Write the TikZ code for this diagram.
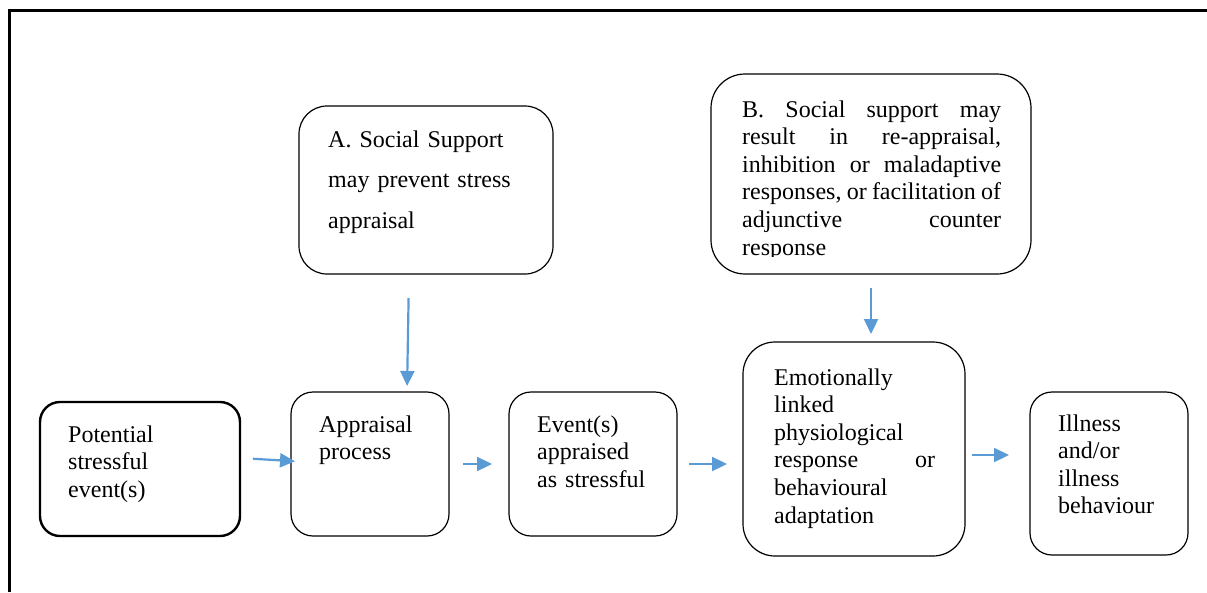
\documentclass[tikz,border=0pt]{standalone}
\usepackage{fontspec}
\setmainfont{Liberation Serif}
\usetikzlibrary{arrows.meta}
\definecolor{arrblue}{HTML}{5B9BD5}
\begin{document}
\begin{tikzpicture}[x=1pt,y=-1pt,
  box/.style={draw, rounded corners=22pt, line width=1.2pt, inner sep=0pt, outer sep=0pt},
  txt/.style={anchor=base west, inner sep=0pt, align=left, font=\fontsize{24}{27.6}\selectfont},
  arr/.style={draw=arrblue, line width=2.2pt, -{Triangle[length=15pt,width=14pt]}}]
\useasboundingbox (0,0) rectangle (1207,592);
% frame
\draw[line width=2.2pt, line join=miter] (9.5,592) -- (9.5,10.5) -- (1207,10.5);
% boxes
\node[box, line width=2.4pt, rounded corners=20pt, minimum width=200pt, minimum height=134pt] (p1) at (140,469) {};
\node[box, minimum width=158pt, minimum height=144pt] (p2) at (370,464) {};
\node[box, minimum width=168pt, minimum height=144pt] (p3) at (593,464) {};
\node[box, rounded corners=32pt, minimum width=222pt, minimum height=214pt] (p4) at (854,449) {};
\node[box, minimum width=158pt, minimum height=163pt] (p5) at (1109,473.5) {};
\node[box, rounded corners=28pt, minimum width=254pt, minimum height=168pt] (pa) at (426,190) {};
\node[box, rounded corners=34pt, minimum width=320pt, minimum height=200pt] (pb) at (871,174) {};
% texts
\node[txt, text width=160pt] (t1) at (68,442) {Potential\\stressful\\event(s)};
\node[txt, text width=120pt] (t2) at (319,432) {Appraisal\\process};
\node[txt, text width=130pt] (t3) at (537,432) {Event(s)\\appraised\\as stressful};
\node[txt, text width=161pt] (t4) at (774,385) {Emotionally\\linked\\physiological\\response\hfill or\\behavioural\\adaptation};
\node[txt, text width=120pt] (t5) at (1058,431) {Illness\\and/or\\illness\\behaviour};
\node[txt, text width=220pt, font=\fontsize{24}{40.7}\selectfont] (ta) at (328,147) {A. Social Support\\may prevent stress\\appraisal};
\begin{scope}
\clip (711,74) rectangle (1031,256);
\node[txt, text width=259pt] (tb) at (742,117) {B.\hfill Social\hfill support\hfill may\\result\hfill in\hfill re-appraisal,\\inhibition\hfill or\hfill maladaptive\\responses,\hfill or\hfill facilitation\hfill of\\adjunctive\hfill counter\\response};
\end{scope}
% connectors
\draw[arr, shorten <=13pt, shorten >=-4pt] ([yshift=11pt]p1.east) -- ([yshift=3pt]p2.west);
\draw[arr, shorten <=14pt, shorten >=17pt] (p2.east) -- (p3.west);
\draw[arr, shorten <=12pt, shorten >=16pt] (p3.east) -- (p3.east -| p4.west);
\draw[arr, shorten <=7pt, shorten >=21pt] ([yshift=-6pt]p4.east) -- ([yshift=-6pt]p4.east -| p5.west);
\draw[arr, shorten <=24pt, shorten >=6pt] ([xshift=-17pt]pa.south) -- ([xshift=37pt]p2.north);
\draw[arr, shorten <=14pt, shorten >=8pt] (pb.south) -- (pb.south |- p4.north);
\end{tikzpicture}
\end{document}
